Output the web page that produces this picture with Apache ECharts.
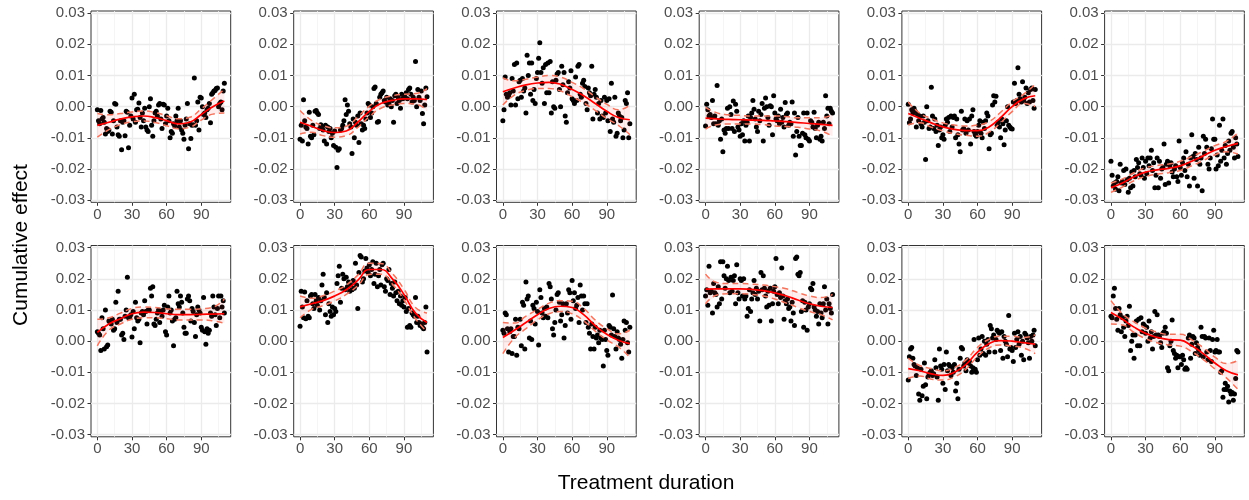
<!DOCTYPE html>
<html>
<head>
<meta charset="utf-8">
<script src="https://cdn.jsdelivr.net/npm/echarts@6/dist/echarts.min.js"></script>
<style>
html,body{margin:0;padding:0;background:#fff;}
#c{width:1249px;height:500px;}
</style>
</head>
<body>
<div id="c"></div>
<script>
// ---------- data (y value for each day 0..110) ----------
const FIT_X = [0,10,20,30,40,50,60,70,80,90,100,110];
const X_TICKS = [0,30,60,90];
const X_MINOR = [15,45,75,105];
const Y_TICKS = [-0.03,-0.02,-0.01,0,0.01,0.02,0.03];
const Y_MINOR = [-0.025,-0.015,-0.005,0.005,0.015,0.025];
const X_TITLE = "Treatment duration";
const Y_TITLE = "Cumulative effect";

const p1_y = [-0.0010,-0.0045,-0.0055,-0.0012,-0.0040,-0.0035,-0.0050,-0.0088,-0.0070,-0.0080,
 -0.0075,-0.0015,-0.0018,-0.0088,-0.0045,0.0010,0.0008,-0.0065,-0.0090,-0.0095,
 -0.0045,-0.0138,-0.0050,-0.0045,-0.0093,-0.0015,-0.0018,-0.0132,-0.0060,-0.0030,
 0.0028,-0.0040,0.0040,-0.0050,-0.0010,-0.0008,0.0012,-0.0035,-0.0065,-0.0020,
 -0.0045,-0.0005,-0.0065,-0.0075,-0.0080,0.0000,0.0025,-0.0060,-0.0095,-0.0045,
 -0.0020,-0.0015,-0.0030,0.0005,0.0010,-0.0040,-0.0070,0.0008,0.0005,-0.0055,
 -0.0030,-0.0005,-0.0045,-0.0100,-0.0080,-0.0085,-0.0055,-0.0062,-0.0030,-0.0045,
 -0.0005,-0.0065,-0.0045,-0.0075,-0.0085,-0.0105,-0.0060,-0.0040,0.0010,-0.0135,
 -0.0055,-0.0102,-0.0060,-0.0058,0.0092,-0.0060,-0.0045,0.0015,-0.0075,0.0030,
 0.0028,0.0000,-0.0025,-0.0020,-0.0035,-0.0010,-0.0005,0.0010,-0.0052,0.0040,
 0.0045,0.0050,0.0052,0.0058,0.0060,0.0000,0.0010,0.0015,-0.0010,0.0050,0.0075];
const p1_fit = [-0.0060,-0.0050,-0.0040,-0.0033,-0.0030,-0.0035,-0.0045,-0.0055,-0.0050,-0.0025,0.0000,0.0018];
const p1_lo  = [-0.0098,-0.0074,-0.0058,-0.0049,-0.0046,-0.0051,-0.0061,-0.0071,-0.0066,-0.0043,-0.0024,-0.0020];
const p1_hi  = [-0.0022,-0.0026,-0.0022,-0.0017,-0.0014,-0.0019,-0.0029,-0.0039,-0.0034,-0.0007,0.0024,0.0056];

const p2_y = [-0.0105,-0.0060,-0.0110,0.0022,-0.0045,-0.0065,-0.0070,-0.0120,-0.0018,-0.0095,
 -0.0100,-0.0060,-0.0090,-0.0015,-0.0012,-0.0020,-0.0025,-0.0070,-0.0058,-0.0065,
 -0.0075,-0.0110,-0.0060,-0.0120,-0.0065,-0.0080,-0.0070,-0.0100,-0.0085,-0.0125,
 -0.0078,-0.0130,-0.0195,-0.0140,-0.0135,-0.0075,-0.0070,-0.0060,-0.0045,0.0022,
 -0.0025,0.0005,-0.0015,-0.0055,-0.0065,-0.0150,-0.0040,-0.0100,-0.0050,-0.0060,
 -0.0030,-0.0115,-0.0020,-0.0055,-0.0075,-0.0060,-0.0070,-0.0040,-0.0020,0.0010,
 0.0005,-0.0035,-0.0020,0.0000,0.0058,0.0063,0.0010,-0.0050,-0.0048,0.0030,
 0.0040,0.0045,0.0050,0.0020,0.0015,0.0030,0.0005,0.0010,0.0025,0.0000,
 0.0020,-0.0050,0.0035,0.0040,0.0010,0.0030,0.0020,-0.0005,0.0040,0.0025,
 0.0035,0.0030,0.0045,0.0025,0.0055,0.0060,0.0040,0.0015,0.0030,0.0020,
 0.0145,0.0000,0.0055,0.0030,0.0020,0.0050,-0.0022,-0.0055,0.0005,0.0060,0.0032];
const p2_fit = [-0.0050,-0.0063,-0.0077,-0.0083,-0.0078,-0.0050,-0.0015,0.0010,0.0020,0.0025,0.0025,0.0023];
const p2_lo  = [-0.0088,-0.0082,-0.0093,-0.0098,-0.0093,-0.0067,-0.0032,-0.0005,0.0005,0.0010,0.0008,-0.0012];
const p2_hi  = [-0.0012,-0.0044,-0.0061,-0.0068,-0.0063,-0.0033,0.0002,0.0025,0.0035,0.0040,0.0042,0.0058];

const p3_y = [-0.0045,-0.0010,0.0095,0.0040,0.0030,0.0035,0.0045,0.0005,0.0090,0.0050,
 0.0135,0.0005,0.0140,0.0025,0.0080,0.0085,0.0030,0.0090,0.0050,0.0060,
 -0.0020,0.0165,0.0100,0.0140,0.0040,0.0140,0.0020,0.0055,0.0010,0.0090,
 0.0110,0.0155,0.0205,0.0110,0.0075,0.0125,0.0010,0.0135,0.0045,0.0140,
 0.0045,0.0145,-0.0020,0.0080,0.0000,-0.0005,0.0085,0.0105,0.0110,0.0055,
 0.0000,0.0130,0.0070,0.0110,-0.0030,-0.0050,0.0045,0.0080,0.0060,0.0115,
 0.0025,0.0020,0.0010,0.0095,0.0020,0.0130,0.0135,0.0040,0.0030,0.0075,
 0.0085,0.0065,0.0010,-0.0010,0.0060,0.0045,0.0035,0.0130,-0.0040,0.0040,
 0.0055,0.0030,-0.0020,0.0010,-0.0040,0.0020,-0.0030,-0.0035,0.0030,-0.0020,
 0.0020,-0.0045,0.0025,-0.0080,0.0075,-0.0040,-0.0050,0.0030,-0.0095,-0.0085,
 -0.0020,-0.0030,-0.0045,-0.0035,-0.0100,-0.0075,0.0020,0.0010,0.0045,-0.0100,-0.0055];
const p3_fit = [0.0048,0.0060,0.0070,0.0076,0.0078,0.0072,0.0055,0.0035,0.0010,-0.0015,-0.0035,-0.0042];
const p3_lo  = [0.0005,0.0037,0.0052,0.0058,0.0058,0.0050,0.0032,0.0012,-0.0012,-0.0038,-0.0060,-0.0090];
const p3_hi  = [0.0092,0.0083,0.0088,0.0095,0.0100,0.0095,0.0078,0.0058,0.0032,0.0008,-0.0010,0.0005];

const p4_y = [-0.0062,0.0008,-0.0010,-0.0030,-0.0025,-0.0035,0.0020,-0.0055,-0.0030,-0.0055,
 0.0068,-0.0060,-0.0045,-0.0105,-0.0040,-0.0145,-0.0075,-0.0085,-0.0070,-0.0005,
 -0.0070,0.0000,-0.0025,-0.0070,0.0018,-0.0080,0.0008,-0.0015,-0.0065,-0.0075,
 -0.0095,-0.0055,-0.0090,-0.0045,-0.0110,-0.0060,-0.0050,-0.0030,-0.0110,-0.0035,
 -0.0020,0.0020,-0.0008,-0.0040,-0.0065,-0.0080,-0.0015,-0.0045,-0.0025,0.0010,
 -0.0110,-0.0005,0.0028,0.0000,-0.0035,-0.0060,0.0003,0.0000,-0.0090,0.0035,
 -0.0020,-0.0040,-0.0045,-0.0030,-0.0055,-0.0008,-0.0050,-0.0035,-0.0065,0.0013,
 -0.0025,-0.0020,-0.0060,-0.0050,-0.0055,0.0015,-0.0095,-0.0020,-0.0155,-0.0080,
 -0.0035,-0.0095,-0.0125,-0.0125,-0.0085,-0.0020,-0.0090,-0.0100,-0.0020,-0.0105,
 -0.0110,-0.0045,-0.0050,-0.0065,-0.0018,-0.0070,-0.0100,-0.0060,-0.0050,-0.0105,
 -0.0095,-0.0110,-0.0050,-0.0070,0.0035,-0.0030,-0.0005,-0.0055,-0.0005,-0.0015,-0.0020];
const p4_fit = [-0.0037,-0.0039,-0.0041,-0.0042,-0.0043,-0.0044,-0.0046,-0.0048,-0.0051,-0.0054,-0.0057,-0.0060];
const p4_lo  = [-0.0072,-0.0058,-0.0056,-0.0056,-0.0056,-0.0058,-0.0062,-0.0064,-0.0066,-0.0072,-0.0078,-0.0095];
const p4_hi  = [-0.0002,-0.0020,-0.0026,-0.0028,-0.0030,-0.0030,-0.0030,-0.0032,-0.0036,-0.0036,-0.0036,-0.0025];

const p5_y = [0.0008,-0.0052,-0.0040,-0.0010,-0.0020,-0.0005,-0.0015,-0.0065,-0.0025,-0.0045,
 -0.0030,-0.0055,-0.0065,-0.0030,-0.0050,-0.0170,0.0000,-0.0045,-0.0070,-0.0065,
 0.0062,-0.0030,-0.0070,-0.0040,-0.0080,-0.0060,-0.0125,-0.0075,-0.0065,-0.0100,
 -0.0090,-0.0105,-0.0060,-0.0040,-0.0050,-0.0035,-0.0080,-0.0030,-0.0065,-0.0035,
 -0.0030,-0.0100,-0.0040,-0.0090,-0.0120,-0.0145,-0.0015,-0.0075,-0.0070,-0.0040,
 -0.0085,-0.0045,-0.0075,-0.0040,-0.0120,-0.0030,-0.0010,-0.0080,-0.0090,-0.0095,
 -0.0080,-0.0060,-0.0045,-0.0085,-0.0100,-0.0050,-0.0070,-0.0045,-0.0020,-0.0030,
 -0.0135,-0.0090,-0.0085,0.0005,0.0035,0.0015,0.0033,-0.0060,-0.0050,-0.0065,
 -0.0100,-0.0040,-0.0055,-0.0122,-0.0075,-0.0045,0.0000,-0.0060,-0.0065,-0.0070,
 -0.0072,0.0015,0.0075,0.0010,0.0020,0.0125,0.0040,0.0025,0.0015,0.0080,
 0.0020,0.0030,0.0060,0.0010,0.0045,0.0015,0.0055,0.0060,0.0020,-0.0005,0.0055];
const p5_fit = [-0.0022,-0.0037,-0.0052,-0.0065,-0.0073,-0.0077,-0.0077,-0.0065,-0.0035,0.0000,0.0025,0.0035];
const p5_lo  = [-0.0058,-0.0052,-0.0066,-0.0078,-0.0087,-0.0092,-0.0095,-0.0082,-0.0052,-0.0016,0.0010,0.0000];
const p5_hi  = [0.0015,-0.0021,-0.0038,-0.0052,-0.0059,-0.0062,-0.0059,-0.0048,-0.0018,0.0016,0.0040,0.0072];

const p6_y = [-0.0175,-0.0220,-0.0255,-0.0245,-0.0265,-0.0240,-0.0225,-0.0270,-0.0185,-0.0245,
 -0.0240,-0.0205,-0.0250,-0.0200,-0.0235,-0.0275,-0.0230,-0.0260,-0.0210,-0.0255,
 -0.0205,-0.0225,-0.0170,-0.0195,-0.0180,-0.0215,-0.0220,-0.0165,-0.0195,-0.0230,
 -0.0175,-0.0215,-0.0165,-0.0190,-0.0165,-0.0140,-0.0205,-0.0180,-0.0260,-0.0220,
 -0.0165,-0.0260,-0.0175,-0.0230,-0.0200,-0.0195,-0.0120,-0.0250,-0.0185,-0.0175,
 -0.0245,-0.0190,-0.0180,-0.0210,-0.0225,-0.0200,-0.0190,-0.0225,-0.0240,-0.0110,
 -0.0195,-0.0220,-0.0180,-0.0165,-0.0205,-0.0145,-0.0225,-0.0185,-0.0255,-0.0165,
 -0.0090,-0.0160,-0.0230,-0.0150,-0.0170,-0.0255,-0.0130,-0.0185,-0.0165,-0.0270,
 -0.0095,-0.0150,-0.0105,-0.0130,-0.0185,-0.0200,-0.0165,-0.0135,-0.0040,-0.0105,
 -0.0105,-0.0200,-0.0155,-0.0190,-0.0060,-0.0175,-0.0140,-0.0040,-0.0165,-0.0125,
 -0.0185,-0.0150,-0.0110,-0.0140,-0.0085,-0.0080,-0.0130,-0.0165,-0.0100,-0.0120,-0.0160];
const p6_fit = [-0.0260,-0.0245,-0.0225,-0.0210,-0.0203,-0.0198,-0.0190,-0.0175,-0.0158,-0.0140,-0.0128,-0.0118];
const p6_lo  = [-0.0275,-0.0258,-0.0238,-0.0224,-0.0217,-0.0212,-0.0205,-0.0190,-0.0173,-0.0155,-0.0145,-0.0152];
const p6_hi  = [-0.0245,-0.0232,-0.0212,-0.0196,-0.0189,-0.0184,-0.0175,-0.0160,-0.0143,-0.0125,-0.0111,-0.0084];

const p7_y = [0.0030,0.0025,0.0020,-0.0030,0.0075,0.0040,-0.0025,0.0100,-0.0018,-0.0012,
 0.0065,0.0060,0.0055,0.0070,0.0035,0.0040,0.0125,0.0060,0.0160,0.0070,
 0.0070,0.0020,0.0025,0.0005,0.0080,0.0100,0.0205,0.0075,0.0075,0.0085,
 0.0013,0.0095,0.0040,0.0125,0.0075,0.0065,0.0070,-0.0005,0.0090,0.0095,
 0.0085,0.0130,0.0095,0.0055,0.0100,0.0100,0.0170,0.0145,0.0175,0.0055,
 0.0050,0.0070,0.0090,0.0100,0.0060,0.0095,0.0080,0.0100,0.0115,0.0030,
 0.0020,0.0110,0.0145,0.0090,0.0100,0.0065,-0.0015,0.0070,0.0075,0.0160,
 0.0120,0.0110,0.0145,0.0125,0.0090,0.0045,0.0025,0.0025,0.0135,0.0145,
 0.0130,0.0065,0.0105,0.0095,0.0060,0.0015,0.0085,0.0110,0.0100,0.0090,
 0.0045,0.0035,0.0140,0.0030,-0.0010,0.0040,0.0025,0.0035,0.0090,0.0080,
 0.0145,0.0110,0.0085,0.0050,0.0105,0.0145,0.0075,0.0145,0.0110,0.0130,0.0090];
const p7_fit = [0.0028,0.0055,0.0072,0.0088,0.0093,0.0092,0.0088,0.0085,0.0085,0.0086,0.0087,0.0088];
const p7_lo  = [-0.0015,0.0035,0.0055,0.0070,0.0075,0.0075,0.0072,0.0068,0.0068,0.0068,0.0065,0.0058];
const p7_hi  = [0.0070,0.0075,0.0090,0.0105,0.0110,0.0108,0.0104,0.0102,0.0102,0.0104,0.0109,0.0135];

const p8_y = [0.0048,0.0160,0.0110,0.0075,0.0158,0.0072,0.0130,0.0080,0.0075,0.0145,
 0.0150,0.0120,0.0105,0.0150,0.0130,0.0115,0.0140,0.0100,0.0130,0.0180,
 0.0215,0.0140,0.0085,0.0155,0.0060,0.0120,0.0095,0.0080,0.0110,0.0085,
 0.0105,0.0095,0.0185,0.0210,0.0240,0.0125,0.0170,0.0215,0.0200,0.0165,
 0.0205,0.0175,0.0190,0.0160,0.0180,0.0165,0.0195,0.0170,0.0250,0.0180,
 0.0105,0.0220,0.0275,0.0270,0.0190,0.0200,0.0225,0.0265,0.0235,0.0220,
 0.0245,0.0210,0.0230,0.0255,0.0185,0.0215,0.0250,0.0175,0.0210,0.0230,
 0.0180,0.0245,0.0250,0.0175,0.0160,0.0200,0.0195,0.0230,0.0150,0.0185,
 0.0170,0.0145,0.0190,0.0155,0.0130,0.0160,0.0120,0.0145,0.0115,0.0130,
 0.0110,0.0140,0.0095,0.0045,0.0105,0.0050,0.0045,0.0090,0.0085,0.0080,
 0.0140,0.0060,0.0080,0.0060,0.0050,0.0055,0.0045,0.0040,0.0060,0.0110,-0.0035];
const p8_fit = [0.0110,0.0120,0.0130,0.0145,0.0165,0.0195,0.0230,0.0230,0.0200,0.0150,0.0090,0.0060];
const p8_lo  = [0.0075,0.0102,0.0114,0.0129,0.0150,0.0178,0.0214,0.0215,0.0183,0.0133,0.0072,0.0030];
const p8_hi  = [0.0145,0.0138,0.0146,0.0161,0.0180,0.0212,0.0250,0.0249,0.0217,0.0167,0.0108,0.0090];

const p9_y = [0.0035,0.0025,0.0090,0.0085,0.0040,-0.0035,0.0030,0.0040,-0.0040,0.0015,
 0.0015,0.0070,-0.0045,0.0045,0.0040,0.0070,-0.0015,0.0125,0.0115,-0.0025,
 0.0190,0.0135,0.0145,0.0010,0.0065,0.0005,0.0115,0.0105,0.0055,0.0125,
 0.0095,-0.0012,0.0165,0.0140,0.0090,0.0075,0.0105,0.0080,0.0110,0.0075,
 0.0185,0.0175,0.0135,0.0040,0.0020,0.0060,0.0100,0.0150,0.0155,0.0125,
 0.0065,0.0085,0.0120,0.0010,0.0050,0.0120,0.0090,0.0165,0.0155,0.0070,
 0.0195,0.0130,0.0155,0.0105,0.0115,0.0140,0.0060,0.0180,0.0145,0.0100,
 0.0145,0.0120,0.0060,0.0120,0.0045,0.0025,-0.0025,0.0055,0.0015,-0.0025,
 0.0045,0.0010,0.0020,-0.0005,0.0035,0.0010,0.0005,-0.0080,0.0035,0.0005,
 -0.0030,-0.0045,0.0050,0.0045,0.0020,0.0148,0.0040,0.0015,-0.0025,0.0030,
 0.0010,0.0005,-0.0010,-0.0055,0.0005,0.0065,0.0035,0.0060,-0.0005,-0.0035,0.0045];
const p9_fit = [0.0012,0.0035,0.0060,0.0085,0.0105,0.0112,0.0108,0.0085,0.0050,0.0022,0.0003,-0.0008];
const p9_lo  = [-0.0040,0.0010,0.0040,0.0068,0.0088,0.0095,0.0088,0.0065,0.0032,0.0004,-0.0018,-0.0052];
const p9_hi  = [0.0060,0.0058,0.0080,0.0102,0.0122,0.0130,0.0128,0.0105,0.0068,0.0040,0.0024,0.0035];

const p10_y = [0.0145,0.0165,0.0115,0.0240,0.0155,0.0160,0.0090,0.0185,0.0155,0.0150,
 0.0110,0.0175,0.0120,0.0255,0.0135,0.0255,0.0210,0.0170,0.0200,0.0240,
 0.0195,0.0155,0.0205,0.0160,0.0195,0.0210,0.0120,0.0245,0.0155,0.0135,
 0.0200,0.0195,0.0145,0.0200,0.0135,0.0145,0.0080,0.0105,0.0165,0.0095,
 0.0135,0.0155,0.0195,0.0150,0.0170,0.0135,0.0160,0.0065,0.0220,0.0165,
 0.0210,0.0170,0.0145,0.0110,0.0160,0.0115,0.0170,0.0065,0.0120,0.0160,
 0.0175,0.0265,0.0150,0.0120,0.0155,0.0140,0.0235,0.0145,0.0070,0.0130,
 0.0120,0.0135,0.0105,0.0110,0.0065,0.0125,0.0090,0.0050,0.0265,0.0270,
 0.0215,0.0210,0.0220,0.0095,0.0130,0.0045,0.0125,0.0100,0.0035,0.0110,
 0.0120,0.0170,0.0165,0.0185,0.0110,0.0100,0.0080,0.0095,0.0055,0.0120,
 0.0090,0.0075,0.0120,0.0175,0.0100,0.0135,0.0055,0.0120,0.0105,0.0090,0.0150];
const p10_fit = [0.0167,0.0168,0.0168,0.0168,0.0166,0.0162,0.0155,0.0145,0.0132,0.0120,0.0112,0.0108];
const p10_lo  = [0.0120,0.0148,0.0152,0.0152,0.0150,0.0145,0.0135,0.0122,0.0108,0.0095,0.0085,0.0068];
const p10_hi  = [0.0215,0.0188,0.0185,0.0185,0.0183,0.0180,0.0175,0.0168,0.0156,0.0145,0.0140,0.0150];

const p11_y = [-0.0125,-0.0050,-0.0025,-0.0020,-0.0055,-0.0075,-0.0080,-0.0110,-0.0085,-0.0170,
 -0.0190,-0.0090,-0.0175,-0.0145,-0.0070,-0.0140,-0.0185,-0.0115,-0.0105,-0.0100,
 -0.0095,-0.0110,-0.0105,-0.0060,-0.0085,-0.0115,-0.0190,-0.0025,-0.0080,-0.0090,
 -0.0135,-0.0075,-0.0155,-0.0035,-0.0095,-0.0075,-0.0080,-0.0110,-0.0085,-0.0100,
 -0.0075,-0.0160,-0.0135,-0.0185,-0.0090,-0.0055,-0.0020,-0.0025,-0.0080,-0.0070,
 -0.0095,-0.0060,-0.0070,-0.0065,-0.0080,-0.0100,-0.0085,0.0005,-0.0090,-0.0100,
 -0.0060,0.0010,-0.0045,-0.0025,0.0015,-0.0040,0.0000,-0.0045,-0.0010,0.0005,
 -0.0035,0.0050,0.0040,0.0010,0.0020,-0.0035,0.0005,0.0035,0.0030,0.0025,
 -0.0030,0.0030,-0.0055,0.0015,0.0000,-0.0010,-0.0050,0.0082,-0.0025,-0.0020,
 -0.0030,-0.0065,0.0025,-0.0020,0.0005,0.0030,-0.0010,0.0015,-0.0045,0.0000,
 -0.0060,0.0025,0.0020,0.0010,-0.0005,-0.0055,0.0015,0.0000,0.0020,0.0035,-0.0015];
const p11_fit = [-0.0088,-0.0095,-0.0105,-0.0110,-0.0100,-0.0075,-0.0035,-0.0008,0.0002,0.0000,-0.0005,-0.0010];
const p11_lo  = [-0.0120,-0.0112,-0.0122,-0.0125,-0.0115,-0.0090,-0.0050,-0.0022,-0.0012,-0.0016,-0.0022,-0.0040];
const p11_hi  = [-0.0055,-0.0078,-0.0088,-0.0095,-0.0085,-0.0060,-0.0020,0.0006,0.0016,0.0016,0.0012,0.0020];

const p12_y = [0.0080,0.0075,0.0145,0.0170,0.0105,0.0070,0.0035,0.0105,0.0085,0.0030,
 0.0075,0.0045,0.0015,0.0065,0.0080,0.0050,0.0112,-0.0030,0.0000,0.0020,
 -0.0055,0.0020,0.0065,-0.0015,0.0070,-0.0015,0.0075,0.0030,0.0055,0.0050,
 0.0025,0.0045,0.0000,0.0065,0.0010,0.0030,-0.0025,0.0015,0.0095,0.0020,
 0.0085,0.0020,0.0015,-0.0005,-0.0020,0.0025,0.0030,0.0045,0.0025,-0.0085,
 -0.0095,-0.0015,0.0000,0.0068,-0.0030,-0.0040,-0.0055,-0.0045,-0.0085,-0.0050,
 -0.0050,-0.0075,-0.0045,-0.0060,-0.0090,-0.0085,-0.0090,0.0010,0.0020,-0.0055,
 -0.0010,0.0015,0.0010,-0.0040,-0.0005,-0.0020,-0.0030,-0.0045,0.0045,0.0015,
 -0.0050,0.0015,0.0010,-0.0035,-0.0060,0.0010,-0.0030,-0.0065,0.0005,0.0035,
 -0.0035,-0.0030,0.0005,-0.0035,-0.0035,-0.0100,-0.0095,-0.0180,-0.0155,-0.0135,
 -0.0155,-0.0145,-0.0195,-0.0160,-0.0170,-0.0165,-0.0190,-0.0170,-0.0120,-0.0030,-0.0035];
const p12_fit = [0.0092,0.0070,0.0045,0.0025,0.0012,0.0005,0.0003,-0.0015,-0.0040,-0.0070,-0.0095,-0.0108];
const p12_lo  = [0.0055,0.0052,0.0028,0.0008,-0.0005,-0.0012,-0.0016,-0.0034,-0.0059,-0.0089,-0.0118,-0.0155];
const p12_hi  = [0.0130,0.0088,0.0062,0.0042,0.0029,0.0022,0.0022,0.0004,-0.0021,-0.0051,-0.0072,-0.0062];

const PANELS = [
  {y:p1_y, fit:p1_fit, lo:p1_lo, hi:p1_hi},
  {y:p2_y, fit:p2_fit, lo:p2_lo, hi:p2_hi},
  {y:p3_y, fit:p3_fit, lo:p3_lo, hi:p3_hi},
  {y:p4_y, fit:p4_fit, lo:p4_lo, hi:p4_hi},
  {y:p5_y, fit:p5_fit, lo:p5_lo, hi:p5_hi},
  {y:p6_y, fit:p6_fit, lo:p6_lo, hi:p6_hi},
  {y:p7_y, fit:p7_fit, lo:p7_lo, hi:p7_hi},
  {y:p8_y, fit:p8_fit, lo:p8_lo, hi:p8_hi},
  {y:p9_y, fit:p9_fit, lo:p9_lo, hi:p9_hi},
  {y:p10_y, fit:p10_fit, lo:p10_lo, hi:p10_hi},
  {y:p11_y, fit:p11_fit, lo:p11_lo, hi:p11_hi},
  {y:p12_y, fit:p12_fit, lo:p12_lo, hi:p12_hi}
];

// ---------- layout ----------
const COL_LEFT = [91, 293.7, 496.5, 699.2, 901.9, 1104.6];
const ROW_TOP = [11, 245.5];
const PW = 139.7, PH = 191.3;
const FONT = "'Liberation Sans', Arial, sans-serif";

const chart = echarts.init(document.getElementById('c'), null, {renderer: 'canvas'});
const grids = [], xAxes = [], yAxes = [], series = [];

PANELS.forEach((p, i) => {
  const r = Math.floor(i / 6), c = i % 6;
  grids.push({left: COL_LEFT[c], top: ROW_TOP[r], width: PW, height: PH,
    show: true, borderColor: '#333333', borderWidth: 1, backgroundColor: '#ffffff'});
  xAxes.push({gridIndex: i, type: 'value', min: -5.5, max: 115.5,
    axisLine: {show: false, onZero: false}, splitLine: {show: false},
    axisTick: {show: true, customValues: X_TICKS, length: 3.5, lineStyle: {color: '#333333', width: 1}},
    axisLabel: {customValues: X_TICKS, color: '#4D4D4D', fontSize: 15, margin: 5, fontFamily: FONT}});
  yAxes.push({gridIndex: i, type: 'value', min: -0.0307, max: 0.0307,
    axisLine: {show: false, onZero: false}, splitLine: {show: false},
    axisTick: {show: true, customValues: Y_TICKS, length: 3.5, lineStyle: {color: '#333333', width: 1}},
    axisLabel: {customValues: Y_TICKS, color: '#4D4D4D', fontSize: 15, margin: 6, fontFamily: FONT,
      formatter: v => v.toFixed(2)}});

  const gl = [];
  X_MINOR.forEach(v => gl.push({xAxis: v, lineStyle: {color: '#F2F2F2', width: 0.8, type: 'solid'}}));
  Y_MINOR.forEach(v => gl.push({yAxis: v, lineStyle: {color: '#F2F2F2', width: 0.8, type: 'solid'}}));
  X_TICKS.forEach(v => gl.push({xAxis: v, lineStyle: {color: '#EBEBEB', width: 1.3, type: 'solid'}}));
  Y_TICKS.forEach(v => gl.push({yAxis: v, lineStyle: {color: '#EBEBEB', width: 1.3, type: 'solid'}}));
  series.push({type: 'line', xAxisIndex: i, yAxisIndex: i, data: [], silent: true, z: 1,
    markLine: {z: 1, zlevel: 0, silent: true, symbol: ['none', 'none'], label: {show: false},
      animation: false, emphasis: {disabled: true}, data: gl}});

  series.push({type: 'scatter', xAxisIndex: i, yAxisIndex: i, z: 2, symbolSize: 5,
    itemStyle: {color: '#000000', opacity: 1}, data: p.y.map((v, d) => [d, v])});

  // confidence ribbon (polygon through the upper then lower bound points)
  series.push({type: 'custom', xAxisIndex: i, yAxisIndex: i, z: 3, silent: true,
    data: FIT_X.map((x, k) => [x, p.lo[k], p.hi[k]]),
    encode: {x: 0, y: [1, 2]},
    renderItem: (params, api) => {
      if (params.dataIndex !== 0) return null;
      const pts = [];
      for (let k = 0; k < FIT_X.length; k++) pts.push(api.coord([FIT_X[k], p.hi[k]]));
      for (let k = FIT_X.length - 1; k >= 0; k--) pts.push(api.coord([FIT_X[k], p.lo[k]]));
      return {type: 'polygon', shape: {points: pts}, style: {fill: 'rgba(255,60,60,0.09)'}};
    }});

  [p.lo, p.hi].forEach(arr => series.push({type: 'line', xAxisIndex: i, yAxisIndex: i, z: 4,
    smooth: true, symbol: 'none', lineStyle: {color: '#F2765F', width: 1.5, type: [6, 4]},
    data: arr.map((v, k) => [FIT_X[k], v])}));

  series.push({type: 'line', xAxisIndex: i, yAxisIndex: i, z: 5, smooth: true, symbol: 'none',
    lineStyle: {color: '#FF0000', width: 1.7}, data: p.fit.map((v, k) => [FIT_X[k], v])});
});

chart.setOption({
  animation: false,
  backgroundColor: '#ffffff',
  grid: grids, xAxis: xAxes, yAxis: yAxes, series: series,
  graphic: [
    {type: 'text', x: 646, y: 483, style: {text: X_TITLE, fill: '#000000', font: '21px ' + FONT,
      textAlign: 'center', textVerticalAlign: 'middle'}},
    {type: 'text', x: 21, y: 245, rotation: Math.PI / 2, style: {text: Y_TITLE, fill: '#000000',
      font: '21px ' + FONT, textAlign: 'center', textVerticalAlign: 'middle'}}
  ]
});
</script>
</body>
</html>
